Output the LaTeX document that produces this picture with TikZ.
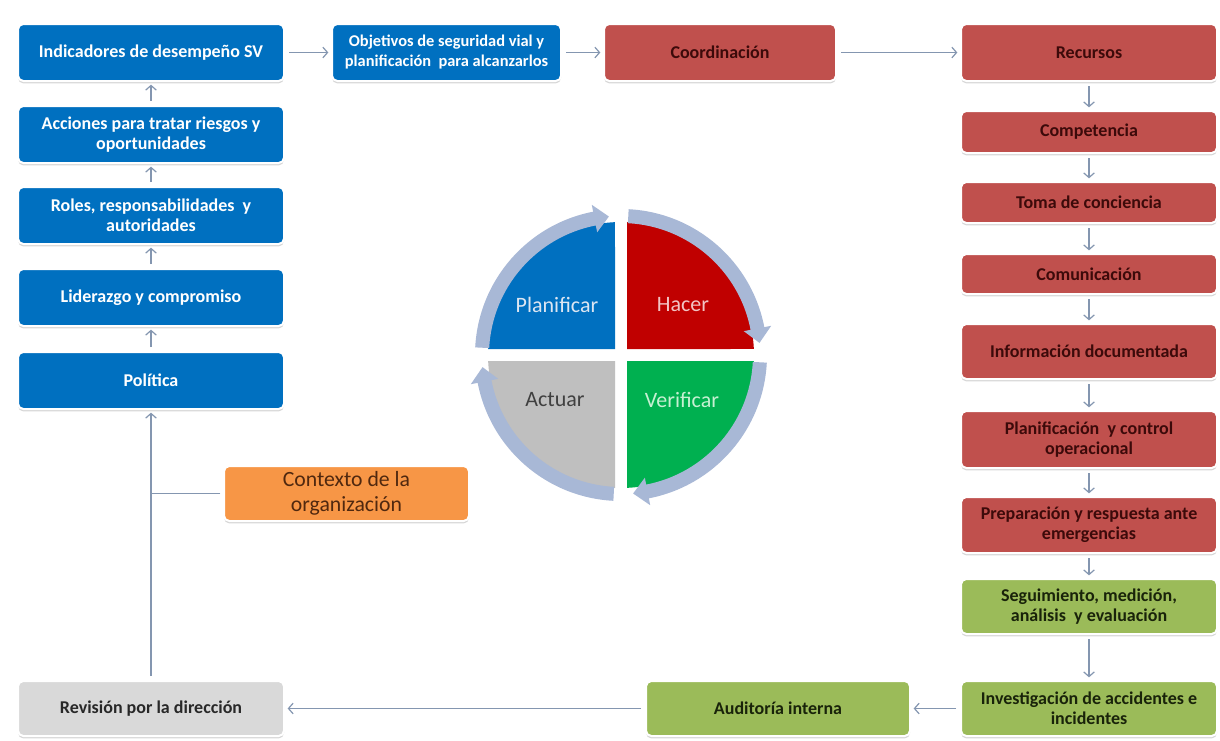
\documentclass[tikz,border=0pt]{standalone}
\usepackage{fontspec}
\setmainfont{Carlito}
\usetikzlibrary{arrows.meta,shadows}
\definecolor{cblue}{HTML}{0070C0}
\definecolor{cred}{HTML}{C0504D}
\definecolor{credtext}{RGB}{60,10,10}
\definecolor{cgreen}{HTML}{9BBB59}
\definecolor{cgreentext}{RGB}{25,35,10}
\definecolor{cgray}{HTML}{D9D9D9}
\definecolor{cgraytext}{RGB}{40,40,40}
\definecolor{corange}{HTML}{F79646}
\definecolor{corangetext}{RGB}{80,40,15}
\definecolor{linec}{HTML}{8496B0}
\definecolor{ringc}{RGB}{168,184,214}
\definecolor{qplan}{HTML}{0070C0}
\definecolor{qhacer}{HTML}{C00000}
\definecolor{qverif}{HTML}{00B050}
\definecolor{qact}{HTML}{BFBFBF}
\definecolor{tplan}{HTML}{DCE6F2}
\definecolor{thacer}{HTML}{F2C4C4}
\definecolor{tverif}{HTML}{C6F0D2}
\definecolor{tact}{HTML}{404040}
\newcommand\ringarrow[3]{%
  \fill[ringc] (#1:132) arc[start angle=#1, end angle=#2, radius=132]
    -- (#2:125) -- (#3:139) -- (#2:153) -- (#2:146)
    arc[start angle=#2, end angle=#1, radius=146] -- cycle;}
\begin{document}
\begin{tikzpicture}[x=0.75pt,y=-0.75pt,
  box/.style={rounded corners=4pt, draw=white, line width=1.5pt, align=center,
    inner sep=2pt, font=\bfseries\fontsize{13.5}{15}\selectfont,
    drop shadow={shadow xshift=0pt, shadow yshift=-1.8pt, fill=black!45, opacity=0.35}},
  bbox/.style={box, fill=cblue, text=white},
  rbox/.style={box, fill=cred, text=credtext},
  gbox/.style={box, fill=cgreen, text=cgreentext},
  leftcol/.style={minimum width=199.5pt, minimum height=42.75pt},
  rightcol/.style={minimum width=192pt},
  conn/.style={draw=linec, line width=0.9pt, -{Straight Barb[length=3.5pt,width=8pt]},
    shorten <=3pt, shorten >=2pt},
  plain/.style={draw=linec, line width=0.9pt},
  qlabel/.style={font=\fontsize{16.5}{20}\selectfont}
]
\fill[white] (0,0) rectangle (1220,740);
\useasboundingbox (0,0) rectangle (1220,740);

% left column
\node[bbox, leftcol] (ind) at (151,52.5) {Indicadores de desempeño SV};
\node[bbox, leftcol] (acc) at (151,134.5) {Acciones para tratar riesgos y\\oportunidades};
\node[bbox, leftcol] (rol) at (151,215.5) {Roles, responsabilidades\ \ y\\autoridades};
\node[bbox, leftcol] (lid) at (151,297.5) {Liderazgo y compromiso};
\node[bbox, leftcol] (pol) at (151,380.5) {Política};
\node[box, fill=cgray, text=cgraytext, minimum width=199.5pt, minimum height=41.25pt] (rev) at (151,708.5) {Revisión por la dirección};

% top row
\node[bbox, font=\bfseries\fontsize{12.3}{15}\selectfont, minimum width=171.75pt, minimum height=42.75pt] (obj) at (446.5,52.5) {Objetivos de seguridad vial y\\planificación\ \ para alcanzarlos};
\node[rbox, minimum width=174pt, minimum height=42.75pt] (coo) at (720,52.5) {Coordinación};

% right column
\node[rbox, rightcol, minimum height=42.75pt] (rec) at (1089,52.5) {Recursos};
\node[rbox, rightcol, minimum height=31.5pt] (comp) at (1089,132) {Competencia};
\node[rbox, rightcol, minimum height=30.75pt] (toma) at (1089,202.5) {Toma de conciencia};
\node[rbox, rightcol, minimum height=30pt] (comu) at (1089,274) {Comunicación};
\node[rbox, rightcol, minimum height=41.25pt] (info) at (1089,351.5) {Información documentada};
\node[rbox, rightcol, minimum height=42.75pt] (plan) at (1089,439.5) {Planificación\ \ y control\\operacional};
\node[rbox, rightcol, minimum height=42pt] (prep) at (1089,525) {Preparación y respuesta ante\\emergencias};
\node[gbox, rightcol, minimum height=41.25pt] (seg) at (1089,606.5) {Seguimiento, medición,\\análisis\ \ y evaluación};
\node[gbox, rightcol, minimum height=41.25pt] (inv) at (1089,708.5) {Investigación de accidentes e\\incidentes};

% bottom
\node[gbox, minimum width=198pt, minimum height=41.25pt] (aud) at (778,708.5) {Auditoría interna};

% context
\node[box, fill=corange, text=corangetext, font=\fontsize{16.3}{19}\selectfont,
  minimum width=183.75pt, minimum height=41.25pt] (ctx) at (346.5,493.5) {Contexto de la\\organización};

% connectors
\draw[conn] (ind) -- (obj);
\draw[conn] (obj) -- (coo);
\draw[conn] (coo) -- (rec);
\draw[conn] (rec) -- (comp);
\draw[conn] (comp) -- (toma);
\draw[conn] (toma) -- (comu);
\draw[conn] (comu) -- (info);
\draw[conn] (info) -- (plan);
\draw[conn] (plan) -- (prep);
\draw[conn] (prep) -- (seg);
\draw[conn] (seg) -- (inv);
\draw[conn] (inv) -- (aud);
\draw[conn] (aud) -- (rev);
\draw[conn] (rev) -- (pol);
\draw[conn] (pol) -- (lid);
\draw[conn] (lid) -- (rol);
\draw[conn] (rol) -- (acc);
\draw[conn] (acc) -- (ind);
\draw[plain, shorten <=2pt] (ctx.west) -- (ctx.west -| rev);

% PDCA circle
\begin{scope}[shift={(621,355)}, x=0.75pt, y=0.75pt]
  \fill[qplan] (-6,6) -- (-132.86,6) arc[start angle=177.41, end angle=92.59, radius=133] -- cycle;
  \fill[qhacer] (6,6) -- (6,132.86) arc[start angle=87.41, end angle=2.59, radius=133] -- cycle;
  \fill[qverif] (6,-6) -- (132.86,-6) arc[start angle=-2.59, end angle=-87.41, radius=133] -- cycle;
  \fill[qact] (-6,-6) -- (-6,-132.86) arc[start angle=-92.59, end angle=-177.41, radius=133] -- cycle;
  \ringarrow{177}{101}{95}
  \ringarrow{87}{11}{5}
  \ringarrow{-3}{-79}{-85}
  \ringarrow{-93}{-169}{-175}
  \node[qlabel, text=tplan] (lplan) at (-64,50) {Planificar};
  \node[qlabel, text=thacer] (lhacer) at (62,50) {Hacer};
  \node[qlabel, text=tact] (lact) at (-66,-45) {Actuar};
  \node[qlabel, text=tverif] (lverif) at (61,-45) {Verificar};
\end{scope}
\end{tikzpicture}
\end{document}
